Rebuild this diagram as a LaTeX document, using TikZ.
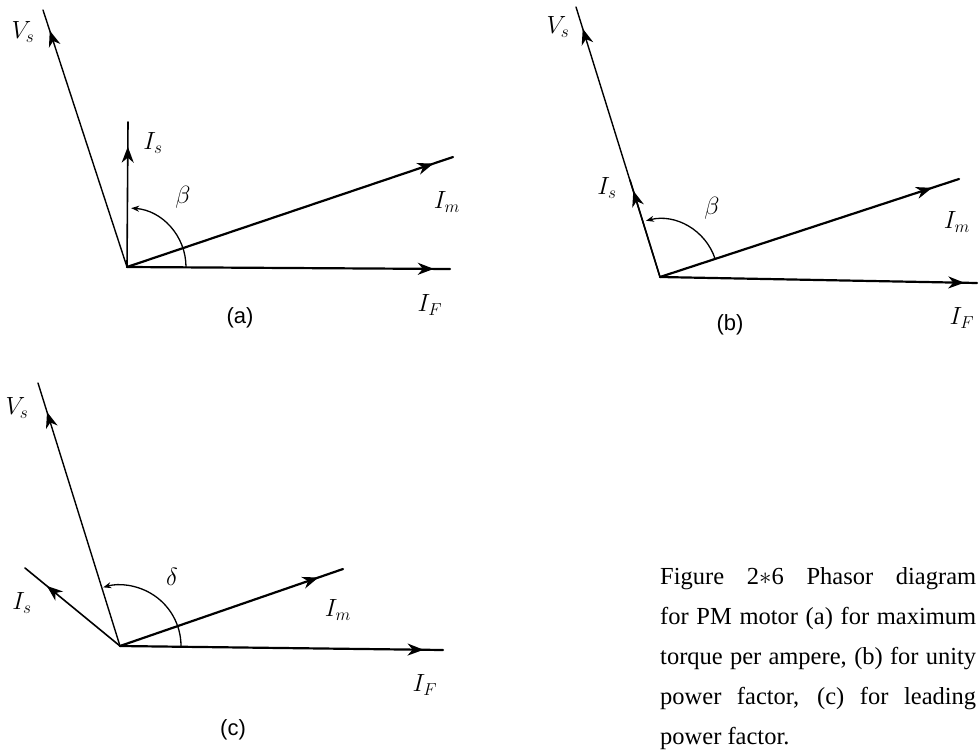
\documentclass[tikz,border=0pt]{standalone}
\usepackage{fontspec}
\setmainfont{Liberation Serif}
\newfontfamily\lblsans{Liberation Sans}
\usetikzlibrary{arrows.meta,decorations.markings}
\begin{document}
\begin{tikzpicture}[x=1pt,y=1pt,
  phasor/.style={line width=1.6pt, line cap=round, postaction={decorate},
    decoration={markings, mark=at position #1 with {\arrow{Stealth[length=16pt,width=12pt,inset=5pt]}}}},
  thin phasor/.style={phasor=#1, line width=1.4pt},
  thick phasor/.style={phasor=#1, line width=2.2pt},
  anglearc/.style={line width=1.3pt, -{Stealth[length=8pt,width=6pt]}},
  lbl/.style={font=\fontsize{24}{28}\selectfont, inner sep=0pt},
  tag/.style={font=\lblsans\fontsize{22}{26}\selectfont, inner sep=0pt},
  captionbox/.style={font=\fontsize{24.5}{40}\selectfont, inner sep=0pt, text width=316pt, align=justify, anchor=base west}
]
\useasboundingbox (0,0) rectangle (979,-752);

% ---------- (a) ----------
\coordinate (Oa) at (127,-267);
\coordinate (Va) at (43,-10);
\coordinate (Ia) at (128,-122);
\coordinate (Ma) at (453,-157);
\coordinate (Fa) at (450,-269);
\draw[thin phasor=0.92] (Oa) -- (Va);
\draw[phasor=0.83] (Oa) -- (Ia);
\draw[thick phasor=0.94] (Oa) -- (Ma);
\draw[thick phasor=0.95] (Oa) -- (Fa);
\coordinate (Aa0) at ([shift={(0:59pt)}]Oa);
\draw[anglearc] (Aa0) arc[start angle=0, end angle=86, radius=59pt];
\node[lbl] (lVa) at (23,-32) {$V_s$};
\node[lbl] (lIa) at (153,-143) {$I_s$};
\node[lbl] (lBa) at (183,-197) {$\beta$};
\node[lbl] (lMa) at (447,-202) {$I_m$};
\node[lbl] (lFa) at (430,-305) {$I_F$};
\node[tag] (ta) at (240,-318) {(a)};

% ---------- (b) ----------
\coordinate (Ob) at (660,-277);
\coordinate (Vb) at (576,-7);
\coordinate (Ib) at (630,-180);
\coordinate (Mb) at (959,-179);
\coordinate (Fb) at (977,-283);
\draw[thin phasor=0.92] (Ob) -- (Vb);
\draw[phasor=0.89] (Ob) -- (Ib);
\draw[thick phasor=0.91] (Ob) -- (Mb);
\draw[thick phasor=0.96] (Ob) -- (Fb);
\coordinate (Ab0) at ([shift={(18:58pt)}]Ob);
\draw[anglearc] (Ab0) arc[start angle=18, end angle=104, radius=58pt];
\node[lbl] (lVb) at (558,-27) {$V_s$};
\node[lbl] (lIb) at (607,-188) {$I_s$};
\node[lbl] (lBb) at (712,-208) {$\beta$};
\node[lbl] (lMb) at (957,-222) {$I_m$};
\node[lbl] (lFb) at (962,-318) {$I_F$};
\node[tag] (tb) at (730,-325) {(b)};

% ---------- (c) ----------
\coordinate (Oc) at (120,-646);
\coordinate (Vc) at (38,-383);
\coordinate (Ic) at (25,-568);
\coordinate (Mc) at (343,-569);
\coordinate (Fc) at (443,-650);
\draw[thin phasor=0.89] (Oc) -- (Vc);
\draw[phasor=0.77] (Oc) -- (Ic);
\draw[thick phasor=0.89] (Oc) -- (Mc);
\draw[thick phasor=0.94] (Oc) -- (Fc);
\coordinate (Ac0) at ([shift={(0:61pt)}]Oc);
\draw[anglearc] (Ac0) arc[start angle=0, end angle=106, radius=61pt];
\node[lbl] (lVc) at (17,-408) {$V_s$};
\node[lbl] (lIc) at (22,-603) {$I_s$};
\node[lbl] (lDc) at (172,-577) {$\delta$};
\node[lbl] (lMc) at (338,-610) {$I_m$};
\node[lbl] (lFc) at (425,-685) {$I_F$};
\node[tag] (tc) at (233,-730) {(c)};

% ---------- caption ----------
\node[captionbox] (cap) at (660,-584) {Figure 2$\ast$6 Phasor diagram\linebreak for PM motor (a) for maximum\linebreak torque per ampere, (b) for unity\linebreak power factor, (c) for leading\linebreak power factor.};
\end{tikzpicture}
\end{document}
